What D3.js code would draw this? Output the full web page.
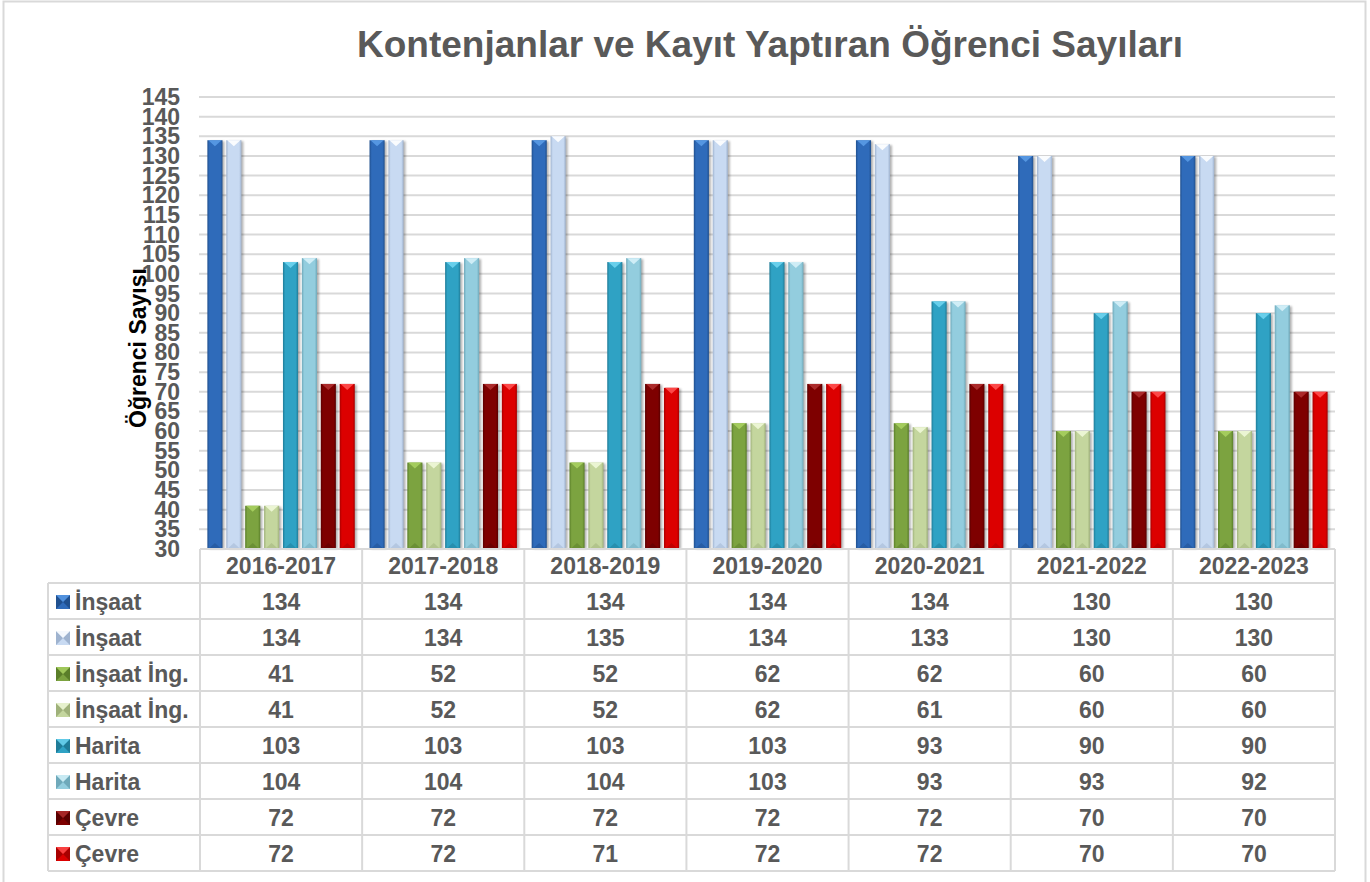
<!DOCTYPE html>
<html>
<head>
<meta charset="utf-8">
<script src="https://cdn.jsdelivr.net/npm/d3@7"></script>
<style>
  body { margin: 0; background: #fff; }
  svg { display: block; font-family: "Liberation Sans", Arial, sans-serif; }
</style>
</head>
<body>
<svg id="chart" width="1370" height="882"></svg>
<script>
// data
var years = ['2016-2017', '2017-2018', '2018-2019', '2019-2020', '2020-2021', '2021-2022', '2022-2023'];
var seriesNames = ['İnşaat', 'İnşaat', 'İnşaat İng.', 'İnşaat İng.', 'Harita', 'Harita', 'Çevre', 'Çevre'];
var insaatKont = [134, 134, 134, 134, 134, 130, 130];
var insaatKayit = [134, 134, 135, 134, 133, 130, 130];
var ingKont = [41, 52, 52, 62, 62, 60, 60];
var ingKayit = [41, 52, 52, 62, 61, 60, 60];
var haritaKont = [103, 103, 103, 103, 93, 90, 90];
var haritaKayit = [104, 104, 104, 103, 93, 93, 92];
var cevreKont = [72, 72, 72, 72, 72, 70, 70];
var cevreKayit = [72, 72, 71, 72, 72, 70, 70];
var yTicks = d3.range(30, 146, 5);

var values = [insaatKont, insaatKayit, ingKont, ingKayit, haritaKont, haritaKayit, cevreKont, cevreKayit];
// base colour, edge colour, cap colour
var colors = [
  ['#2F6BBA', '#20508F', '#5A9BE6'],
  ['#C8DAF2', '#9FB3CF', '#FFFFFF'],
  ['#7CA340', '#5A7E29', '#A8D060'],
  ['#C4D69E', '#9FB17A', '#EFF8D8'],
  ['#2FA2C4', '#1F7C98', '#6FD4F0'],
  ['#93CDDE', '#6FA9BA', '#D6F1F8'],
  ['#7E0000', '#5A0000', '#B03030'],
  ['#DC0000', '#A80000', '#FF5050']
];

var svg = d3.select('#chart');
var plotLeft = 200, plotRight = 1335, plotTop = 97, plotBottom = 549;
var rowH = 36, headH = 34, tableLeft = 48;
var grey = '#595959', lineCol = '#D9D9D9';

// outer frame
svg.append('rect').attr('x', 3.5).attr('y', 1.5).attr('width', 1362).attr('height', 886)
  .attr('fill', 'none').attr('stroke', lineCol).attr('stroke-width', 2);

var x0 = d3.scaleBand().domain(years).range([plotLeft, plotRight]).paddingInner(0).paddingOuter(0);
var x1 = d3.scaleBand().domain(d3.range(8)).range([0, x0.bandwidth()]).paddingInner(0.2).paddingOuter(0.39);
var y = d3.scaleLinear().domain([30, 145]).range([plotBottom, plotTop]);

var defs = svg.append('defs');
colors.forEach(function(c, i) {
  var g = defs.append('linearGradient').attr('id', 'g' + i).attr('x1', 0).attr('x2', 1).attr('y1', 0).attr('y2', 0);
  g.append('stop').attr('offset', 0).attr('stop-color', c[1]);
  g.append('stop').attr('offset', 0.15).attr('stop-color', c[0]);
  g.append('stop').attr('offset', 0.85).attr('stop-color', c[0]);
  g.append('stop').attr('offset', 1).attr('stop-color', c[1]);
});
var blur = defs.append('filter').attr('id', 'sh').attr('x', -0.5).attr('y', -0.1).attr('width', 2).attr('height', 1.2);
blur.append('feGaussianBlur').attr('stdDeviation', 1.2);

// title
svg.append('text').attr('x', 770).attr('y', 57).attr('text-anchor', 'middle')
  .attr('font-size', 37).attr('font-weight', 'bold').attr('fill', grey)
  .text('Kontenjanlar ve Kayıt Yaptıran Öğrenci Sayıları');

// gridlines
svg.append('g').selectAll('line').data(yTicks.slice(1)).enter().append('line')
  .attr('x1', plotLeft - 1).attr('x2', plotRight).attr('y1', function(d) { return y(d); }).attr('y2', function(d) { return y(d); })
  .attr('stroke', lineCol).attr('stroke-width', 2);

// y tick labels (they crowd each other, as in the original)
svg.append('g').selectAll('text').data(yTicks).enter().append('text')
  .attr('x', 180).attr('y', function(d) { return y(d) + 8; }).attr('text-anchor', 'end')
  .attr('font-size', 23).attr('font-weight', 'bold').attr('fill', grey)
  .text(function(d) { return d; });

svg.append('text').attr('transform', 'translate(146,348) rotate(-90)').attr('text-anchor', 'middle')
  .attr('font-size', 23).attr('font-weight', 'bold').attr('fill', '#000').text('Öğrenci Sayısı');

// bars
var bars = [];
years.forEach(function(yr, j) {
  values.forEach(function(v, i) {
    bars.push({ year: yr, s: i, v: v[j] });
  });
});
var bw = x1.bandwidth();
var bg = svg.append('g').selectAll('g').data(bars).enter().append('g')
  .attr('transform', function(d) { return 'translate(' + (x0(d.year) + x1(d.s)) + ',0)'; });
bg.append('rect').attr('x', 2).attr('y', function(d) { return y(d.v) + 1; })
  .attr('width', bw).attr('height', function(d) { return plotBottom - y(d.v) - 1; })
  .attr('fill', '#000').attr('opacity', 0.3).attr('filter', 'url(#sh)');
bg.append('rect').attr('x', 0).attr('y', function(d) { return y(d.v); })
  .attr('width', bw).attr('height', function(d) { return plotBottom - y(d.v); })
  .attr('fill', function(d) { return 'url(#g' + d.s + ')'; });
bg.append('path').attr('d', function(d) {
    var t = y(d.v);
    return 'M1,' + t + 'L' + (bw - 1) + ',' + t + 'L' + (bw / 2) + ',' + (t + 6) + 'Z';
  })
  .attr('fill', function(d) { return colors[d.s][2]; }).attr('opacity', 0.9);
bg.append('path').attr('d', function(d) {
    return 'M1,' + plotBottom + 'L' + (bw - 1) + ',' + plotBottom + 'L' + (bw / 2) + ',' + (plotBottom - 6) + 'Z';
  })
  .attr('fill', function(d) { return colors[d.s][1]; }).attr('opacity', 0.5);

// data table
var tg = svg.append('g');
var tableTop = plotBottom + headH;
tg.append('line').attr('x1', plotLeft).attr('x2', plotRight).attr('y1', plotBottom).attr('y2', plotBottom)
  .attr('stroke', lineCol).attr('stroke-width', 2);
d3.range(9).forEach(function(k) {
  tg.append('line').attr('x1', tableLeft).attr('x2', plotRight)
    .attr('y1', tableTop + k * rowH).attr('y2', tableTop + k * rowH)
    .attr('stroke', lineCol).attr('stroke-width', 2);
});
tg.append('line').attr('x1', tableLeft).attr('x2', tableLeft).attr('y1', tableTop).attr('y2', tableTop + 8 * rowH)
  .attr('stroke', lineCol).attr('stroke-width', 2);
d3.range(years.length + 1).forEach(function(j) {
  var xx = plotLeft + j * x0.step();
  tg.append('line').attr('x1', xx).attr('x2', xx).attr('y1', plotBottom).attr('y2', tableTop + 8 * rowH)
    .attr('stroke', lineCol).attr('stroke-width', 2);
});

tg.selectAll('.yr').data(years).enter().append('text').attr('class', 'yr')
  .attr('x', function(d) { return x0(d) + x0.bandwidth() / 2; }).attr('y', plotBottom + 25)
  .attr('text-anchor', 'middle').attr('font-size', 23).attr('font-weight', 'bold').attr('fill', grey)
  .text(function(d) { return d; });

values.forEach(function(v, i) {
  var ry = tableTop + i * rowH;
  var ic = tg.append('g').attr('transform', 'translate(56,' + (ry + 12) + ')');
  ic.append('rect').attr('width', 14).attr('height', 14).attr('fill', colors[i][0]);
  ic.append('path').attr('d', 'M0,0L7,7L0,14Z M14,0L7,7L14,14Z').attr('fill', colors[i][1]);
  ic.append('path').attr('d', 'M0,0L14,0L7,7Z').attr('fill', colors[i][2]).attr('opacity', 0.8);
  tg.append('text').attr('x', 75).attr('y', ry + 27).attr('font-size', 23).attr('font-weight', 'bold')
    .attr('fill', grey).text(seriesNames[i]);
  tg.selectAll('.v' + i).data(v).enter().append('text').attr('class', 'v' + i)
    .attr('x', function(d, j) { return x0(years[j]) + x0.bandwidth() / 2; }).attr('y', ry + 27)
    .attr('text-anchor', 'middle').attr('font-size', 23).attr('font-weight', 'bold').attr('fill', grey)
    .text(function(d) { return d; });
});
</script>
</body>
</html>
